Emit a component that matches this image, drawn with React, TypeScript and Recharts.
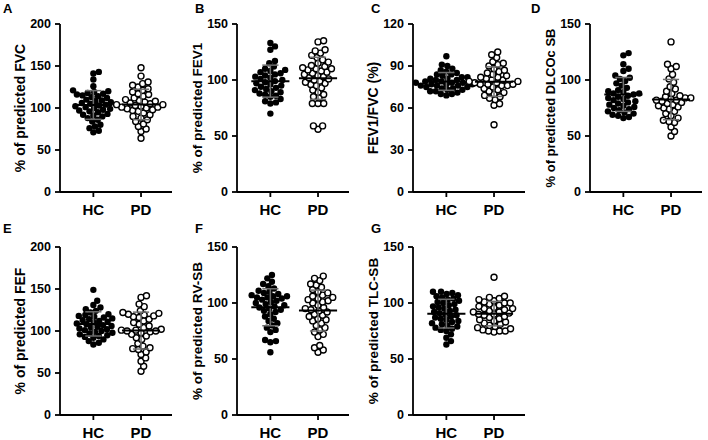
import React from 'react';
import { ScatterChart, Scatter, XAxis, YAxis, ReferenceLine } from 'recharts';

const groups = ['HC', 'PD'];

const fvcHC = [143, 141, 134, 126, 121, 120, 119, 118, 117, 116, 115, 114, 113, 112, 110, 109, 108, 107, 106, 105, 104, 103, 102, 101, 100, 99, 98, 97, 96, 95, 93, 92, 91, 90, 88, 86, 84, 80, 78, 76, 73, 71];
const fvcPD = [148, 138, 131, 129, 127, 125, 123, 121, 119, 117, 116, 114, 112, 110, 109, 108, 107, 106, 105, 104, 104, 103, 102, 101, 101, 100, 99, 98, 97, 96, 94, 92, 90, 88, 86, 84, 81, 78, 75, 72, 64];

const fev1HC = [133, 130, 127, 117, 115, 112, 110, 109, 108, 107, 106, 105, 104, 103, 102, 101, 100, 99, 98, 97, 96, 95, 94, 93, 92, 91, 90, 89, 88, 87, 86, 85, 83, 81, 80, 79, 70];
const fev1PD = [135, 134, 127, 126, 124, 122, 120, 118, 116, 115, 113, 112, 111, 110, 110, 109, 108, 107, 106, 105, 104, 103, 102, 101, 100, 99, 98, 97, 96, 95, 93, 91, 89, 87, 85, 84, 79, 79, 79, 59, 59, 56];

const ratioHC = [97, 91, 90, 88, 87, 86, 85, 84, 84, 83, 82, 82, 81, 81, 80, 80, 79, 79, 78, 78, 78, 77, 77, 77, 76, 76, 76, 75, 75, 74, 74, 73, 73, 72, 72, 71, 70, 70, 69];
const ratioPD = [100, 98, 96, 93, 92, 91, 90, 88, 87, 86, 85, 84, 83, 82, 82, 81, 80, 80, 79, 79, 78, 78, 77, 77, 77, 76, 76, 75, 74, 73, 72, 71, 70, 69, 68, 67, 66, 63, 62, 48];

const dlcoHC = [124, 122, 114, 110, 108, 104, 102, 101, 99, 97, 95, 93, 91, 90, 89, 88, 88, 87, 86, 85, 84, 83, 82, 81, 80, 79, 78, 77, 76, 75, 74, 73, 72, 71, 70, 69, 68, 67, 66];
const dlcoPD = [134, 114, 112, 110, 105, 101, 98, 94, 92, 90, 88, 86, 85, 84, 84, 83, 82, 82, 81, 80, 79, 78, 77, 76, 75, 74, 72, 70, 68, 66, 64, 63, 62, 58, 54, 50];

const fefHC = [149, 136, 131, 128, 126, 124, 122, 120, 119, 118, 117, 116, 115, 114, 113, 112, 111, 110, 109, 108, 107, 106, 105, 104, 103, 102, 101, 100, 99, 98, 97, 96, 95, 94, 93, 92, 90, 88, 86, 84];
const fefPD = [142, 140, 132, 129, 124, 122, 121, 120, 119, 118, 117, 116, 114, 112, 110, 108, 106, 104, 102, 101, 101, 100, 100, 99, 98, 96, 94, 92, 90, 85, 82, 80, 79, 78, 75, 72, 68, 64, 58, 52];

const rvHC = [125, 122, 119, 117, 115, 113, 111, 110, 109, 108, 107, 106, 106, 105, 105, 104, 103, 102, 101, 100, 99, 98, 97, 96, 95, 94, 93, 92, 90, 88, 86, 84, 82, 80, 78, 76, 74, 67, 66, 65, 56];
const rvPD = [124, 122, 120, 117, 116, 114, 112, 110, 109, 107, 106, 105, 104, 103, 102, 101, 100, 98, 96, 95, 94, 93, 92, 90, 89, 88, 86, 85, 84, 82, 80, 78, 76, 74, 72, 70, 62, 60, 58, 56];

const tlcHC = [110, 110, 109, 108, 107, 106, 105, 104, 103, 102, 101, 100, 99, 98, 97, 96, 95, 94, 93, 92, 91, 90, 89, 88, 87, 86, 85, 84, 83, 82, 81, 80, 79, 78, 77, 76, 75, 72, 69, 66, 63];
const tlcPD = [123, 106, 105, 104, 103, 102, 101, 100, 100, 99, 98, 97, 96, 95, 95, 94, 93, 92, 92, 91, 90, 90, 89, 88, 87, 86, 85, 84, 83, 82, 81, 80, 79, 78, 77, 76, 75, 75, 75, 74];

const ticks200 = [0, 50, 100, 150, 200];
const ticks150 = [0, 50, 100, 150];
const ticks120 = [0, 30, 60, 90, 120];

const PLOT_W = 112;
const PLOT_H = 168;
const YAXIS_W = 80;
const MARGIN_TOP = 10;
const MARGIN_RIGHT = 4;
const XAXIS_H = 37;
const CHART_W = YAXIS_W + PLOT_W + MARGIN_RIGHT;
const CHART_H = MARGIN_TOP + PLOT_H + XAXIS_H;
const X_DOMAIN: [number, number] = [0.3, 2.65];
const FONT = '"Liberation Sans", Arial, Helvetica, sans-serif';

type Pt = { x: number; y: number };

function swarm(values: number[], center: number, yMax: number): Pt[] {
  const pxPerY = PLOT_H / yMax;
  const pxPerX = PLOT_W / (X_DOMAIN[1] - X_DOMAIN[0]);
  const d = 5.7;
  const placed: Pt[] = [];
  const out: Pt[] = [];
  const sorted = [...values].sort((a, b) => a - b);
  for (const v of sorted) {
    const y = v * pxPerY;
    const cands = [0];
    for (const p of placed) {
      const dy = Math.abs(p.y - y);
      if (dy < d) {
        const dx = Math.sqrt(d * d - dy * dy);
        cands.push(p.x + dx, p.x - dx);
      }
    }
    cands.sort((a, b) => Math.abs(a) - Math.abs(b));
    let chosen = 0;
    for (const c of cands) {
      if (placed.every((p) => (p.x - c) ** 2 + (p.y - y) ** 2 >= d * d - 1e-6)) {
        chosen = c;
        break;
      }
    }
    placed.push({ x: chosen, y });
    out.push({ x: center + chosen / pxPerX, y: v });
  }
  return out;
}

function stats(values: number[]) {
  const n = values.length;
  const mean = values.reduce((s, v) => s + v, 0) / n;
  const sd = Math.sqrt(values.reduce((s, v) => s + (v - mean) ** 2, 0) / (n - 1));
  return { mean, sd };
}

const HcDot = (props: any) => <circle cx={props.cx} cy={props.cy} r={3.2} fill="#000" />;
const PdDot = (props: any) => (
  <circle cx={props.cx} cy={props.cy} r={3.0} fill="#fff" stroke="#000" strokeWidth={1.4} />
);

type PanelDef = {
  letter: string;
  label: string;
  yMax: number;
  ticks: number[];
  hc: number[];
  pd: number[];
  axisX: number;
  plotTop: number;
  labelSize: number;
};

const panels: PanelDef[] = [
  { letter: 'A', label: '% of predicted FVC', yMax: 200, ticks: ticks200, hc: fvcHC, pd: fvcPD, axisX: 59.5, plotTop: 24, labelSize: 14 },
  { letter: 'B', label: '% of predicted FEV1', yMax: 150, ticks: ticks150, hc: fev1HC, pd: fev1PD, axisX: 236.5, plotTop: 24, labelSize: 13.5 },
  { letter: 'C', label: 'FEV1/FVC (%)', yMax: 120, ticks: ticks120, hc: ratioHC, pd: ratioPD, axisX: 413, plotTop: 24, labelSize: 14 },
  { letter: 'D', label: '% of predicted DLCOc SB', yMax: 150, ticks: ticks150, hc: dlcoHC, pd: dlcoPD, axisX: 590, plotTop: 24, labelSize: 13 },
  { letter: 'E', label: '% of predicted FEF', yMax: 200, ticks: ticks200, hc: fefHC, pd: fefPD, axisX: 59.5, plotTop: 247, labelSize: 14 },
  { letter: 'F', label: '% of predicted RV-SB', yMax: 150, ticks: ticks150, hc: rvHC, pd: rvPD, axisX: 236.5, plotTop: 247, labelSize: 13.5 },
  { letter: 'G', label: '% of predicted TLC-SB', yMax: 150, ticks: ticks150, hc: tlcHC, pd: tlcPD, axisX: 413, plotTop: 247, labelSize: 13.5 },
];

const letterPos: Record<string, { left: number; top: number }> = {
  A: { left: 3, top: 2 },
  B: { left: 195, top: 2 },
  C: { left: 371, top: 2 },
  D: { left: 531, top: 2 },
  E: { left: 3, top: 222 },
  F: { left: 195, top: 222 },
  G: { left: 371, top: 222 },
};

function meanSdLines(values: number[], center: number, keyBase: string) {
  const { mean, sd } = stats(values);
  const mw = 0.4;
  const cw = 0.17;
  const sdStroke = '#6e6e6e';
  return [
    <ReferenceLine key={keyBase + 'v'} segment={[{ x: center, y: mean - sd }, { x: center, y: mean + sd }]} stroke={sdStroke} strokeWidth={1.5} zIndex={1000} />,
    <ReferenceLine key={keyBase + 't'} segment={[{ x: center - cw, y: mean + sd }, { x: center + cw, y: mean + sd }]} stroke={sdStroke} strokeWidth={1.5} zIndex={1000} />,
    <ReferenceLine key={keyBase + 'b'} segment={[{ x: center - cw, y: mean - sd }, { x: center + cw, y: mean - sd }]} stroke={sdStroke} strokeWidth={1.5} zIndex={1000} />,
    <ReferenceLine key={keyBase + 'm'} segment={[{ x: center - mw, y: mean }, { x: center + mw, y: mean }]} stroke="#000" strokeWidth={2} zIndex={1001} />,
  ];
}

function Panel({ p }: { p: PanelDef }) {
  const hcPts = swarm(p.hc, 1, p.yMax);
  const pdPts = swarm(p.pd, 2, p.yMax);
  return (
    <div style={{ position: 'absolute', left: p.axisX - YAXIS_W, top: p.plotTop - MARGIN_TOP, width: CHART_W, height: CHART_H }}>
      <ScatterChart width={CHART_W} height={CHART_H} margin={{ top: MARGIN_TOP, right: MARGIN_RIGHT, bottom: 0, left: 0 }}>
        <XAxis
          type="number"
          dataKey="x"
          domain={X_DOMAIN}
          ticks={[1, 2]}
          interval={0}
          allowDataOverflow
          tickFormatter={(v: number) => groups[Math.round(v) - 1]}
          height={XAXIS_H}
          axisLine={{ stroke: '#000', strokeWidth: 1.8 }}
          tickLine={{ stroke: '#000', strokeWidth: 1.8 }}
          tickSize={5}
          tickMargin={7}
          tick={{ fill: '#000', fontSize: 15, fontWeight: 700, fontFamily: FONT }}
        />
        <YAxis
          type="number"
          dataKey="y"
          domain={[0, p.yMax]}
          ticks={p.ticks}
          interval={0}
          width={YAXIS_W}
          axisLine={{ stroke: '#000', strokeWidth: 1.8 }}
          tickLine={{ stroke: '#000', strokeWidth: 1.8 }}
          tickSize={5}
          tickMargin={4}
          tick={{ fill: '#000', fontSize: 12.5, fontWeight: 700, fontFamily: FONT }}
          label={{ value: p.label, angle: -90, position: 'center', fill: '#000', fontSize: p.labelSize, fontWeight: 700, fontFamily: FONT }}
        />
        <Scatter data={hcPts} shape={HcDot} isAnimationActive={false} />
        <Scatter data={pdPts} shape={PdDot} isAnimationActive={false} />
        {meanSdLines(p.hc, 1, 'hc')}
        {meanSdLines(p.pd, 2, 'pd')}
      </ScatterChart>
    </div>
  );
}

export default function App() {
  return (
    <div style={{ position: 'absolute', left: 0, top: 0, width: 708, height: 440, background: '#fff', fontFamily: FONT, overflow: 'hidden' }}>
      {panels.map((p) => (
        <Panel key={p.letter} p={p} />
      ))}
      {panels.map((p) => (
        <div
          key={'l' + p.letter}
          style={{ position: 'absolute', left: letterPos[p.letter].left, top: letterPos[p.letter].top, fontSize: 13, fontWeight: 700, lineHeight: '14px', color: '#000' }}
        >
          {p.letter}
        </div>
      ))}
    </div>
  );
}
